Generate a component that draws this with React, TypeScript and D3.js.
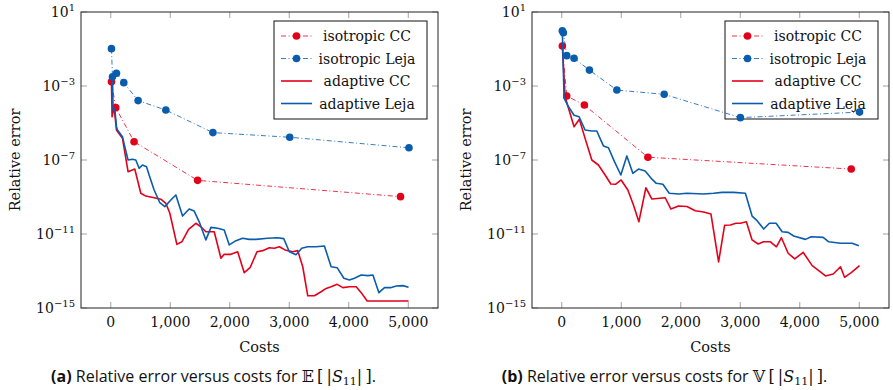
import React from "react";
import * as d3 from "d3";

// ---- data: costs and relative errors (stored as log10 of the error) ----

// (a) expectation E[|S11|]
const isoCCCostsA = [12, 84, 392, 1460, 4870];
const isoCCLogErrA = [-2.77, -4.17, -6.01, -8.1, -8.98];

const isoLejaCostsA = [12, 29, 96, 219, 460, 926, 1717, 3008, 5012];
const isoLejaLogErrA = [-0.98, -2.5, -2.31, -2.82, -3.79, -4.3, -5.52, -5.77, -6.34];

const adCCCostsA = [
  12, 22, 56, 96, 197, 291, 404, 505, 589, 729, 842, 926, 993, 1111, 1195, 1308, 1431, 1515,
  1599, 1739, 1852, 1907, 2020, 2133, 2244, 2345, 2458, 2554, 2665, 2749, 2833, 2929, 3059,
  3143, 3227, 3311, 3423, 3535, 3620, 3704, 3805, 3901, 4012, 4125, 4209, 4310, 5005,
];
const adCCLogErrA = [
  -2.77, -4.66, -4.15, -5.38, -5.83, -7.63, -7.49, -8.8, -8.95, -9.04, -9.12, -9.34, -9.88,
  -11.56, -11.42, -10.75, -10.42, -10.61, -10.88, -10.88, -12.31, -12.1, -12.1, -11.96, -13.09,
  -12.8, -11.96, -11.9, -11.74, -11.77, -11.69, -11.86, -11.96, -11.9, -12.77, -14.34, -14.34,
  -14.12, -13.94, -13.85, -13.72, -13.9, -13.85, -13.85, -14.17, -14.62, -14.62,
];

const adLejaCostsA = [
  29, 39, 67, 96, 113, 197, 236, 291, 365, 421, 477, 533, 601, 645, 729, 825, 909, 1010, 1094,
  1207, 1318, 1402, 1487, 1599, 1684, 1796, 1907, 1992, 2104, 2217, 2328, 2441, 2638, 2806,
  2907, 3002, 3114, 3210, 3311, 3451, 3591, 3704, 3805, 3918, 4012, 4096, 4209, 4322, 4406,
  4507, 4601, 4702, 4798, 4911, 5005,
];
const adLejaLogErrA = [
  -2.5, -4.3, -4.21, -5.2, -5.38, -5.74, -6.28, -7.0, -6.96, -7.0, -7.45, -7.27, -7.36, -7.81,
  -8.62, -9.31, -9.52, -9.16, -8.89, -10.03, -9.65, -9.76, -10.34, -11.32, -10.64, -10.69,
  -10.78, -11.59, -11.36, -11.23, -11.29, -11.29, -11.23, -11.2, -11.25, -11.96, -12.12, -11.77,
  -11.69, -11.69, -11.65, -12.77, -12.82, -13.39, -13.49, -13.39, -13.22, -13.25, -13.22,
  -14.17, -13.9, -13.9, -13.81, -13.79, -13.88,
];

// (b) variance V[|S11|]
const isoCCCostsB = [10, 84, 380, 1448, 4865];
const isoCCLogErrB = [-0.84, -3.54, -4.03, -6.85, -7.49];

const isoLejaCostsB = [10, 27, 84, 207, 465, 926, 1722, 3002, 5005];
const isoLejaLogErrB = [-0.01, -0.12, -1.36, -1.5, -2.14, -3.22, -3.45, -4.71, -4.41];

const adCCCostsB = [
  10, 56, 207, 296, 392, 505, 616, 729, 825, 909, 998, 1111, 1205, 1296, 1414, 1515, 1739,
  1835, 1963, 2104, 2244, 2384, 2508, 2636, 2737, 2833, 2929, 3002, 3103, 3199, 3300, 3394,
  3507, 3608, 3692, 3805, 3916, 4057, 4209, 4320, 4433, 4562, 4685, 4753, 4865, 5005,
];
const adCCLogErrB = [
  -0.88, -3.58, -5.2, -4.8, -5.83, -7.0, -7.27, -7.81, -8.3, -8.31, -8.08, -8.62, -9.43,
  -10.34, -8.5, -9.11, -9.04, -9.65, -9.49, -9.51, -9.74, -9.81, -9.92, -12.51, -10.53,
  -10.51, -10.42, -10.42, -10.34, -11.32, -11.54, -11.42, -11.42, -11.69, -11.2, -12.04,
  -12.35, -11.99, -12.71, -12.98, -13.27, -13.16, -12.77, -13.34, -13.09, -12.71,
];

const adLejaCostsB = [
  10, 39, 111, 207, 291, 392, 505, 589, 700, 785, 886, 993, 1094, 1195, 1290, 1402, 1503,
  1588, 1700, 1806, 1963, 2104, 2384, 2552, 2694, 2889, 3086, 3199, 3283, 3394, 3490, 3603,
  3704, 3805, 3899, 4096, 4192, 4394, 4488, 4685, 4882, 4993,
];
const adLejaLogErrB = [
  -0.06, -3.66, -4.11, -4.58, -4.66, -5.38, -5.43, -5.43, -6.24, -6.34, -7.09, -7.81, -6.78,
  -7.72, -7.49, -7.59, -7.99, -8.26, -8.31, -8.8, -8.84, -8.8, -8.84, -8.8, -8.75, -8.75,
  -8.8, -10.03, -10.28, -10.73, -10.42, -10.42, -10.88, -10.91, -11.11, -11.29, -11.15,
  -11.18, -11.42, -11.5, -11.5, -11.63,
];

const xTicks = [0, 1000, 2000, 3000, 4000, 5000];
const yTickExponents = [1, -3, -7, -11, -15];
const legendLabels = ["isotropic CC", "isotropic Leja", "adaptive CC", "adaptive Leja"];

// ---- styling ----
const RED = "#e3001b";
const BLUE = "#0a5cad";
const SERIF = "'DejaVu Serif', serif";
const SANS = "'Open Sans', 'Noto Sans', sans-serif";
const MATH = "'DejaVu Serif', 'DejaVu Sans', serif";

type Pt = { c: number; e: number };
const zip = (cs: number[], es: number[]): Pt[] => cs.map((c, i) => ({ c, e: Math.pow(10, es[i]) }));

type Series = { pts: Pt[]; color: string; dashed: boolean };

const PLOT_TOP = 12;
const PLOT_BOTTOM = 308;
const PLOT_W = 357;

function Panel(props: {
  left: number;
  series: Series[];
  letter: string;
  op: string;
}) {
  const { left, series, letter, op } = props;
  const right = left + PLOT_W;
  const x = d3.scaleLinear().domain([-500, 5500]).range([left, right]);
  const y = d3.scaleLog().domain([1e-15, 10]).range([PLOT_BOTTOM, PLOT_TOP]);
  const line = d3
    .line<Pt>()
    .x((d) => x(d.c))
    .y((d) => y(d.e));

  const legX = right - 164;
  const legY = 21;
  const rowY = (i: number) => legY + 15 + i * 22.5;

  return (
    <g>
      {/* legend (drawn beneath the data) */}
      <g>
        <rect x={legX} y={legY} width={153} height={98} fill="white" stroke="#111" strokeWidth={1} />
        {series.map((s, i) => (
          <g key={"lg" + i}>
            <line
              x1={legX + 7}
              x2={legX + 38}
              y1={rowY(i)}
              y2={rowY(i)}
              stroke={s.color}
              strokeWidth={s.dashed ? 0.8 : 1.6}
              strokeDasharray={s.dashed ? "5 2.5 1 2.5" : undefined}
            />
            {s.dashed && <circle cx={legX + 22.5} cy={rowY(i)} r={3.8} fill={s.color} />}
            <text
              x={legX + 93}
              y={rowY(i) + 5}
              fontFamily={SERIF}
              fontSize={14}
              textAnchor="middle"
              fill="#111"
            >
              {legendLabels[i]}
            </text>
          </g>
        ))}
      </g>

      {/* data */}
      <g>
        {series.map((s, i) => (
          <g key={i}>
            <path
              d={line(s.pts) || ""}
              fill="none"
              stroke={s.color}
              strokeWidth={s.dashed ? 0.8 : 1.6}
              strokeDasharray={s.dashed ? "5 2.5 1 2.5" : undefined}
              strokeLinejoin="round"
            />
            {s.dashed &&
              s.pts.map((p, j) => (
                <circle key={j} cx={x(p.c)} cy={y(p.e)} r={3.8} fill={s.color} />
              ))}
          </g>
        ))}
      </g>

      {/* ticks (inward on all four sides) */}
      <g stroke="#8a8a8a" strokeWidth={0.8}>
        {xTicks.map((t) => (
          <g key={"x" + t}>
            <line x1={x(t)} x2={x(t)} y1={PLOT_BOTTOM} y2={PLOT_BOTTOM - 6} />
            <line x1={x(t)} x2={x(t)} y1={PLOT_TOP} y2={PLOT_TOP + 6} />
          </g>
        ))}
        {yTickExponents.map((e) => (
          <g key={"y" + e}>
            <line x1={left} x2={left + 6} y1={y(Math.pow(10, e))} y2={y(Math.pow(10, e))} />
            <line x1={right} x2={right - 6} y1={y(Math.pow(10, e))} y2={y(Math.pow(10, e))} />
          </g>
        ))}
      </g>

      {/* frame */}
      <rect
        x={left}
        y={PLOT_TOP}
        width={PLOT_W}
        height={PLOT_BOTTOM - PLOT_TOP}
        fill="none"
        stroke="#222"
        strokeWidth={1}
      />

      {/* tick labels */}
      <g fontFamily={SERIF} fill="#111">
        {xTicks.map((t) => (
          <text key={"xl" + t} x={x(t)} y={326.5} fontSize={14} textAnchor="middle">
            {d3.format(",")(t)}
          </text>
        ))}
        {yTickExponents.map((e) => (
          <text
            key={"yl" + e}
            x={left - 6}
            y={y(Math.pow(10, e)) + 5}
            fontSize={14}
            textAnchor="end"
          >
            10
            <tspan fontSize={10} dy={-6}>
              {e < 0 ? "\u2212" + Math.abs(e) : String(e)}
            </tspan>
          </text>
        ))}
      </g>

      {/* axis titles */}
      <text
        x={(left + right) / 2}
        y={352}
        fontFamily={SERIF}
        fontSize={14.5}
        textAnchor="middle"
        fill="#111"
      >
        Costs
      </text>
      <text
        transform={`translate(${left - 61},${(PLOT_TOP + PLOT_BOTTOM) / 2}) rotate(-90)`}
        fontFamily={SERIF}
        fontSize={14.5}
        textAnchor="middle"
        fill="#111"
      >
        Relative error
      </text>

      {/* caption */}
      <text x={left + 132.5} y={382} fontSize={16} textAnchor="middle" fill="#111" fontFamily={SANS}>
        <tspan fontWeight="bold">({letter})</tspan>
        <tspan> Relative error versus costs for </tspan>
        <tspan fontFamily={MATH}>{op + "\u2009"}</tspan>
        <tspan fontFamily={MATH}>{"[\u2009|"}</tspan>
        <tspan fontFamily={MATH} fontStyle="italic">
          S
        </tspan>
        <tspan fontFamily={MATH} fontSize={11} dy={3}>
          11
        </tspan>
        <tspan fontFamily={MATH} dy={-3}>
          {"|\u2009]"}
        </tspan>
        <tspan>.</tspan>
      </text>
    </g>
  );
}

export default function App() {
  const seriesA: Series[] = [
    { pts: zip(isoCCCostsA, isoCCLogErrA), color: RED, dashed: true },
    { pts: zip(isoLejaCostsA, isoLejaLogErrA), color: BLUE, dashed: true },
    { pts: zip(adCCCostsA, adCCLogErrA), color: RED, dashed: false },
    { pts: zip(adLejaCostsA, adLejaLogErrA), color: BLUE, dashed: false },
  ];
  const seriesB: Series[] = [
    { pts: zip(isoCCCostsB, isoCCLogErrB), color: RED, dashed: true },
    { pts: zip(isoLejaCostsB, isoLejaLogErrB), color: BLUE, dashed: true },
    { pts: zip(adCCCostsB, adCCLogErrB), color: RED, dashed: false },
    { pts: zip(adLejaCostsB, adLejaLogErrB), color: BLUE, dashed: false },
  ];
  return (
    <svg
      width={893}
      height={390}
      style={{ position: "absolute", left: 0, top: 0, background: "white" }}
    >
      <Panel left={81} series={seriesA} letter="a" op={"\u{1D53C}"} />
      <Panel left={532} series={seriesB} letter="b" op={"\u{1D54D}"} />
    </svg>
  );
}
